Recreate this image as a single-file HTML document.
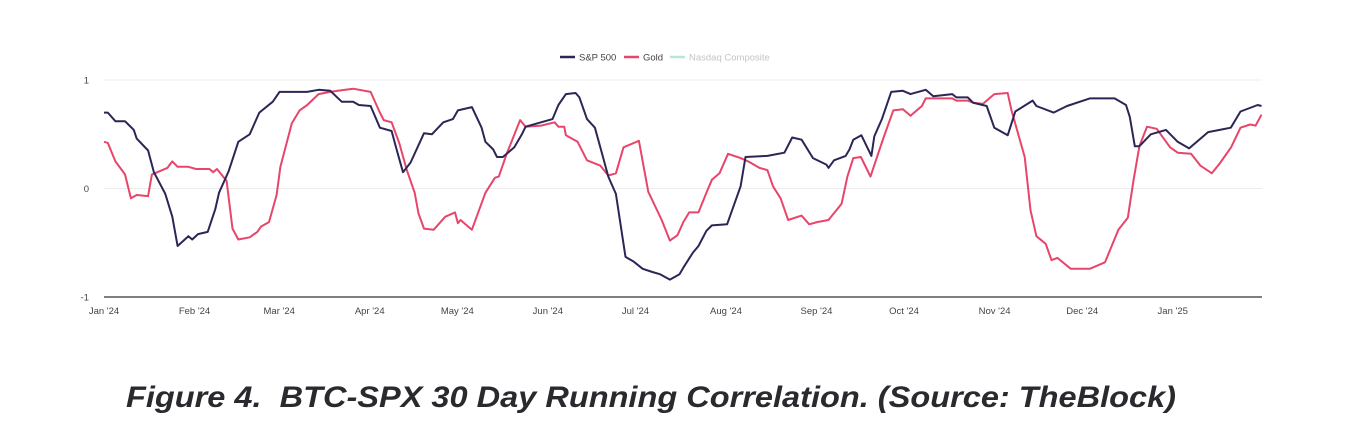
<!DOCTYPE html>
<html><head><meta charset="utf-8"><style>
html,body{margin:0;padding:0;background:#fff;}
svg{display:block;font-family:"Liberation Sans",sans-serif;}
.cap{white-space:pre;}
</style></head><body>
<svg id="chart" width="1353" height="441" viewBox="0 0 1353 441">
<g id="grid"></g>
<g id="axes"></g>
<g id="series"></g>
<g>
 <g><line x1="560" y1="57" x2="575" y2="57" stroke="#2b2656" stroke-width="2.5"/><text x="579" y="60.5" font-size="9.5" fill="#444">S&amp;P 500</text></g>
 <g><line x1="624" y1="57" x2="639" y2="57" stroke="#e8456a" stroke-width="2.5"/><text x="643" y="60.5" font-size="9.5" fill="#444">Gold</text></g>
 <g><line x1="670" y1="57" x2="685" y2="57" stroke="#b8e6dc" stroke-width="2.5"/><text x="689" y="60.5" font-size="9.5" fill="#c4c4c4">Nasdaq Composite</text></g>
</g>
<text class="cap" xml:space="preserve" x="126" y="407" font-size="30" font-weight="bold" font-style="italic" fill="#2a2a2e" textLength="1050" lengthAdjust="spacingAndGlyphs">Figure 4.  BTC-SPX 30 Day Running Correlation. (Source: TheBlock)</text>
</svg>
<script>
const monthTickDays=[0,31,60,91,121,152,182,213,244,274,305,335,366];
const monthTickLabels=["Jan '24","Feb '24","Mar '24","Apr '24","May '24","Jun '24","Jul '24","Aug '24","Sep '24","Oct '24","Nov '24","Dec '24","Jan '25"];
const yTicks=[1,0,-1];
const spDays=[0,1.3,3.9,7.2,10.2,11.2,15.1,17.1,21,23.4,25.2,28.9,30.2,32.2,35.5,38.1,39.4,42.7,46,49.9,53.2,57.8,60.1,69.6,73.5,77.5,81.4,85.3,87.3,91.3,94.5,98.5,100.4,102.4,105,109.6,112.3,116.2,119.5,121.2,126,129.3,130.6,133.3,134.6,136.6,140.5,143.1,144.4,153.6,155.6,158.2,161.5,162.8,165.4,168.1,170.7,172.7,175.3,178.6,181.2,184.5,187.8,190.4,193.8,197.1,198.4,201.7,203.6,206.3,208.2,213.4,218,219.7,227.2,233,235.7,238.9,242.8,247.4,248.1,250,254,255.3,256.6,259.4,262.8,263.8,266.4,269.6,273.6,276.2,281.4,284,290.5,291.9,295.8,297.7,302.3,304.9,309.5,312.1,318,319.3,325.2,329.8,337.6,346.1,350,351.3,353,354.6,358.5,363.7,367.7,371.6,378.1,382.1,385.9,389.2,395.1,396.4];
const spValues=[0.70,0.70,0.62,0.62,0.54,0.46,0.35,0.15,-0.05,-0.26,-0.53,-0.44,-0.47,-0.42,-0.40,-0.19,-0.04,0.16,0.43,0.50,0.70,0.80,0.89,0.89,0.91,0.90,0.80,0.80,0.77,0.76,0.56,0.53,0.34,0.15,0.24,0.51,0.50,0.61,0.64,0.72,0.75,0.56,0.43,0.36,0.29,0.29,0.38,0.50,0.57,0.64,0.77,0.87,0.88,0.84,0.64,0.56,0.31,0.11,-0.05,-0.63,-0.67,-0.74,-0.77,-0.79,-0.84,-0.79,-0.73,-0.59,-0.53,-0.39,-0.34,-0.33,0.02,0.29,0.30,0.33,0.47,0.45,0.28,0.22,0.19,0.26,0.30,0.36,0.45,0.49,0.30,0.48,0.64,0.89,0.90,0.87,0.91,0.85,0.87,0.84,0.84,0.79,0.76,0.56,0.49,0.71,0.81,0.76,0.70,0.76,0.83,0.83,0.77,0.66,0.39,0.39,0.50,0.54,0.43,0.37,0.52,0.54,0.56,0.71,0.77,0.76];
const goldDays=[0,1.3,3.9,7.2,9.2,11.2,15.1,16.4,21.7,23.4,25.2,28.9,31.5,36.1,37.4,38.7,42,44,46,49.9,52.5,53.8,56.5,59.1,60.4,64.3,67,69.6,73.5,77.5,80.1,85.3,91.3,94.5,95.8,98.5,101.1,103.7,106.4,107.7,109.6,112.9,116.9,120.2,121.2,122.1,126,130.6,133.9,135.2,137.9,142.5,144.4,149.7,154.3,155.6,157.6,158.2,162.2,165.4,170,172.7,175.3,177.9,183.2,186.4,191,193.8,196.4,198.4,200.4,203.6,206.3,208.2,210.8,213.7,218,220.6,224.5,227.2,229.1,231.7,234.3,238.9,241.5,244.2,248.1,252.6,254.6,256.6,259.2,262.5,265.1,267,270.3,273.6,276.2,280.1,281.4,290.5,291.9,295.8,297.7,301,304.9,309.5,310.8,315.3,317.3,319.3,322.5,324.5,326.5,331.1,337.6,342.8,347.4,350.6,352.6,354.6,357.2,360.5,365.1,367.7,372.3,375.5,379.4,382.1,386,389.2,392.5,394.4,396.4];
const goldValues=[0.43,0.42,0.25,0.13,-0.09,-0.06,-0.07,0.13,0.19,0.25,0.20,0.20,0.18,0.18,0.15,0.18,0.07,-0.37,-0.47,-0.45,-0.40,-0.35,-0.31,-0.06,0.20,0.60,0.72,0.77,0.87,0.89,0.90,0.92,0.89,0.70,0.63,0.61,0.42,0.17,-0.04,-0.23,-0.37,-0.38,-0.26,-0.22,-0.32,-0.29,-0.38,-0.04,0.10,0.11,0.32,0.63,0.57,0.58,0.61,0.57,0.57,0.49,0.43,0.26,0.21,0.12,0.14,0.38,0.44,-0.03,-0.29,-0.48,-0.43,-0.31,-0.22,-0.22,-0.04,0.08,0.14,0.32,0.28,0.25,0.19,0.17,0.02,-0.09,-0.29,-0.25,-0.33,-0.31,-0.29,-0.14,0.11,0.28,0.29,0.11,0.32,0.47,0.72,0.73,0.67,0.76,0.83,0.83,0.81,0.81,0.79,0.78,0.87,0.88,0.72,0.29,-0.20,-0.44,-0.51,-0.66,-0.64,-0.74,-0.74,-0.68,-0.38,-0.27,0.08,0.39,0.57,0.55,0.38,0.33,0.32,0.21,0.14,0.23,0.38,0.56,0.59,0.58,0.68];

const NS='http://www.w3.org/2000/svg';
const X0=104,X1=1262,Y_TOP=80,Y_BOT=297,DAY_PX=2.92;
function xScale(d){return X0+d*DAY_PX;}
function yScale(v){return Y_TOP+(1-v)/2*(Y_BOT-Y_TOP);}
function mk(tag,attrs){const e=document.createElementNS(NS,tag);for(const k in attrs)e.setAttribute(k,attrs[k]);return e;}
const grid=document.getElementById('grid'),axes=document.getElementById('axes'),series=document.getElementById('series');
yTicks.forEach(t=>{
  const y=yScale(t);
  if(t>-1){const g=mk('line',{x1:X0,x2:X1,y1:y,y2:y,stroke:'#ececec','stroke-width':1});
  
  
  grid.appendChild(g);}
  const tx=mk('text',{x:89,y:y+3.5,'font-size':9.5,fill:'#444','text-anchor':'end'});
  
  
  tx.textContent=String(t);axes.appendChild(tx);
});
const ax=mk('line',{x1:X0,x2:X1,y1:Y_BOT,y2:Y_BOT,stroke:'#333','stroke-width':1.2});


axes.appendChild(ax);
monthTickDays.forEach((d,i)=>{
  const tx=mk('text',{x:xScale(d),y:314,'font-size':9.5,fill:'#444','text-anchor':'middle'});
  
  
  tx.textContent=monthTickLabels[i];axes.appendChild(tx);
});
function drawLine(days,vals,color,name){
  const d=days.map((dd,i)=>(i?'L':'M')+xScale(dd).toFixed(1)+','+yScale(vals[i]).toFixed(1)).join('');
  const p=mk('path',{d:d,fill:'none',stroke:color,'stroke-width':2,'stroke-linejoin':'round'});
  
  
  series.appendChild(p);
}
drawLine(goldDays,goldValues,'#e8456a','gold-line');
drawLine(spDays,spValues,'#2b2656','sp500-line');
</script>
</body></html>
